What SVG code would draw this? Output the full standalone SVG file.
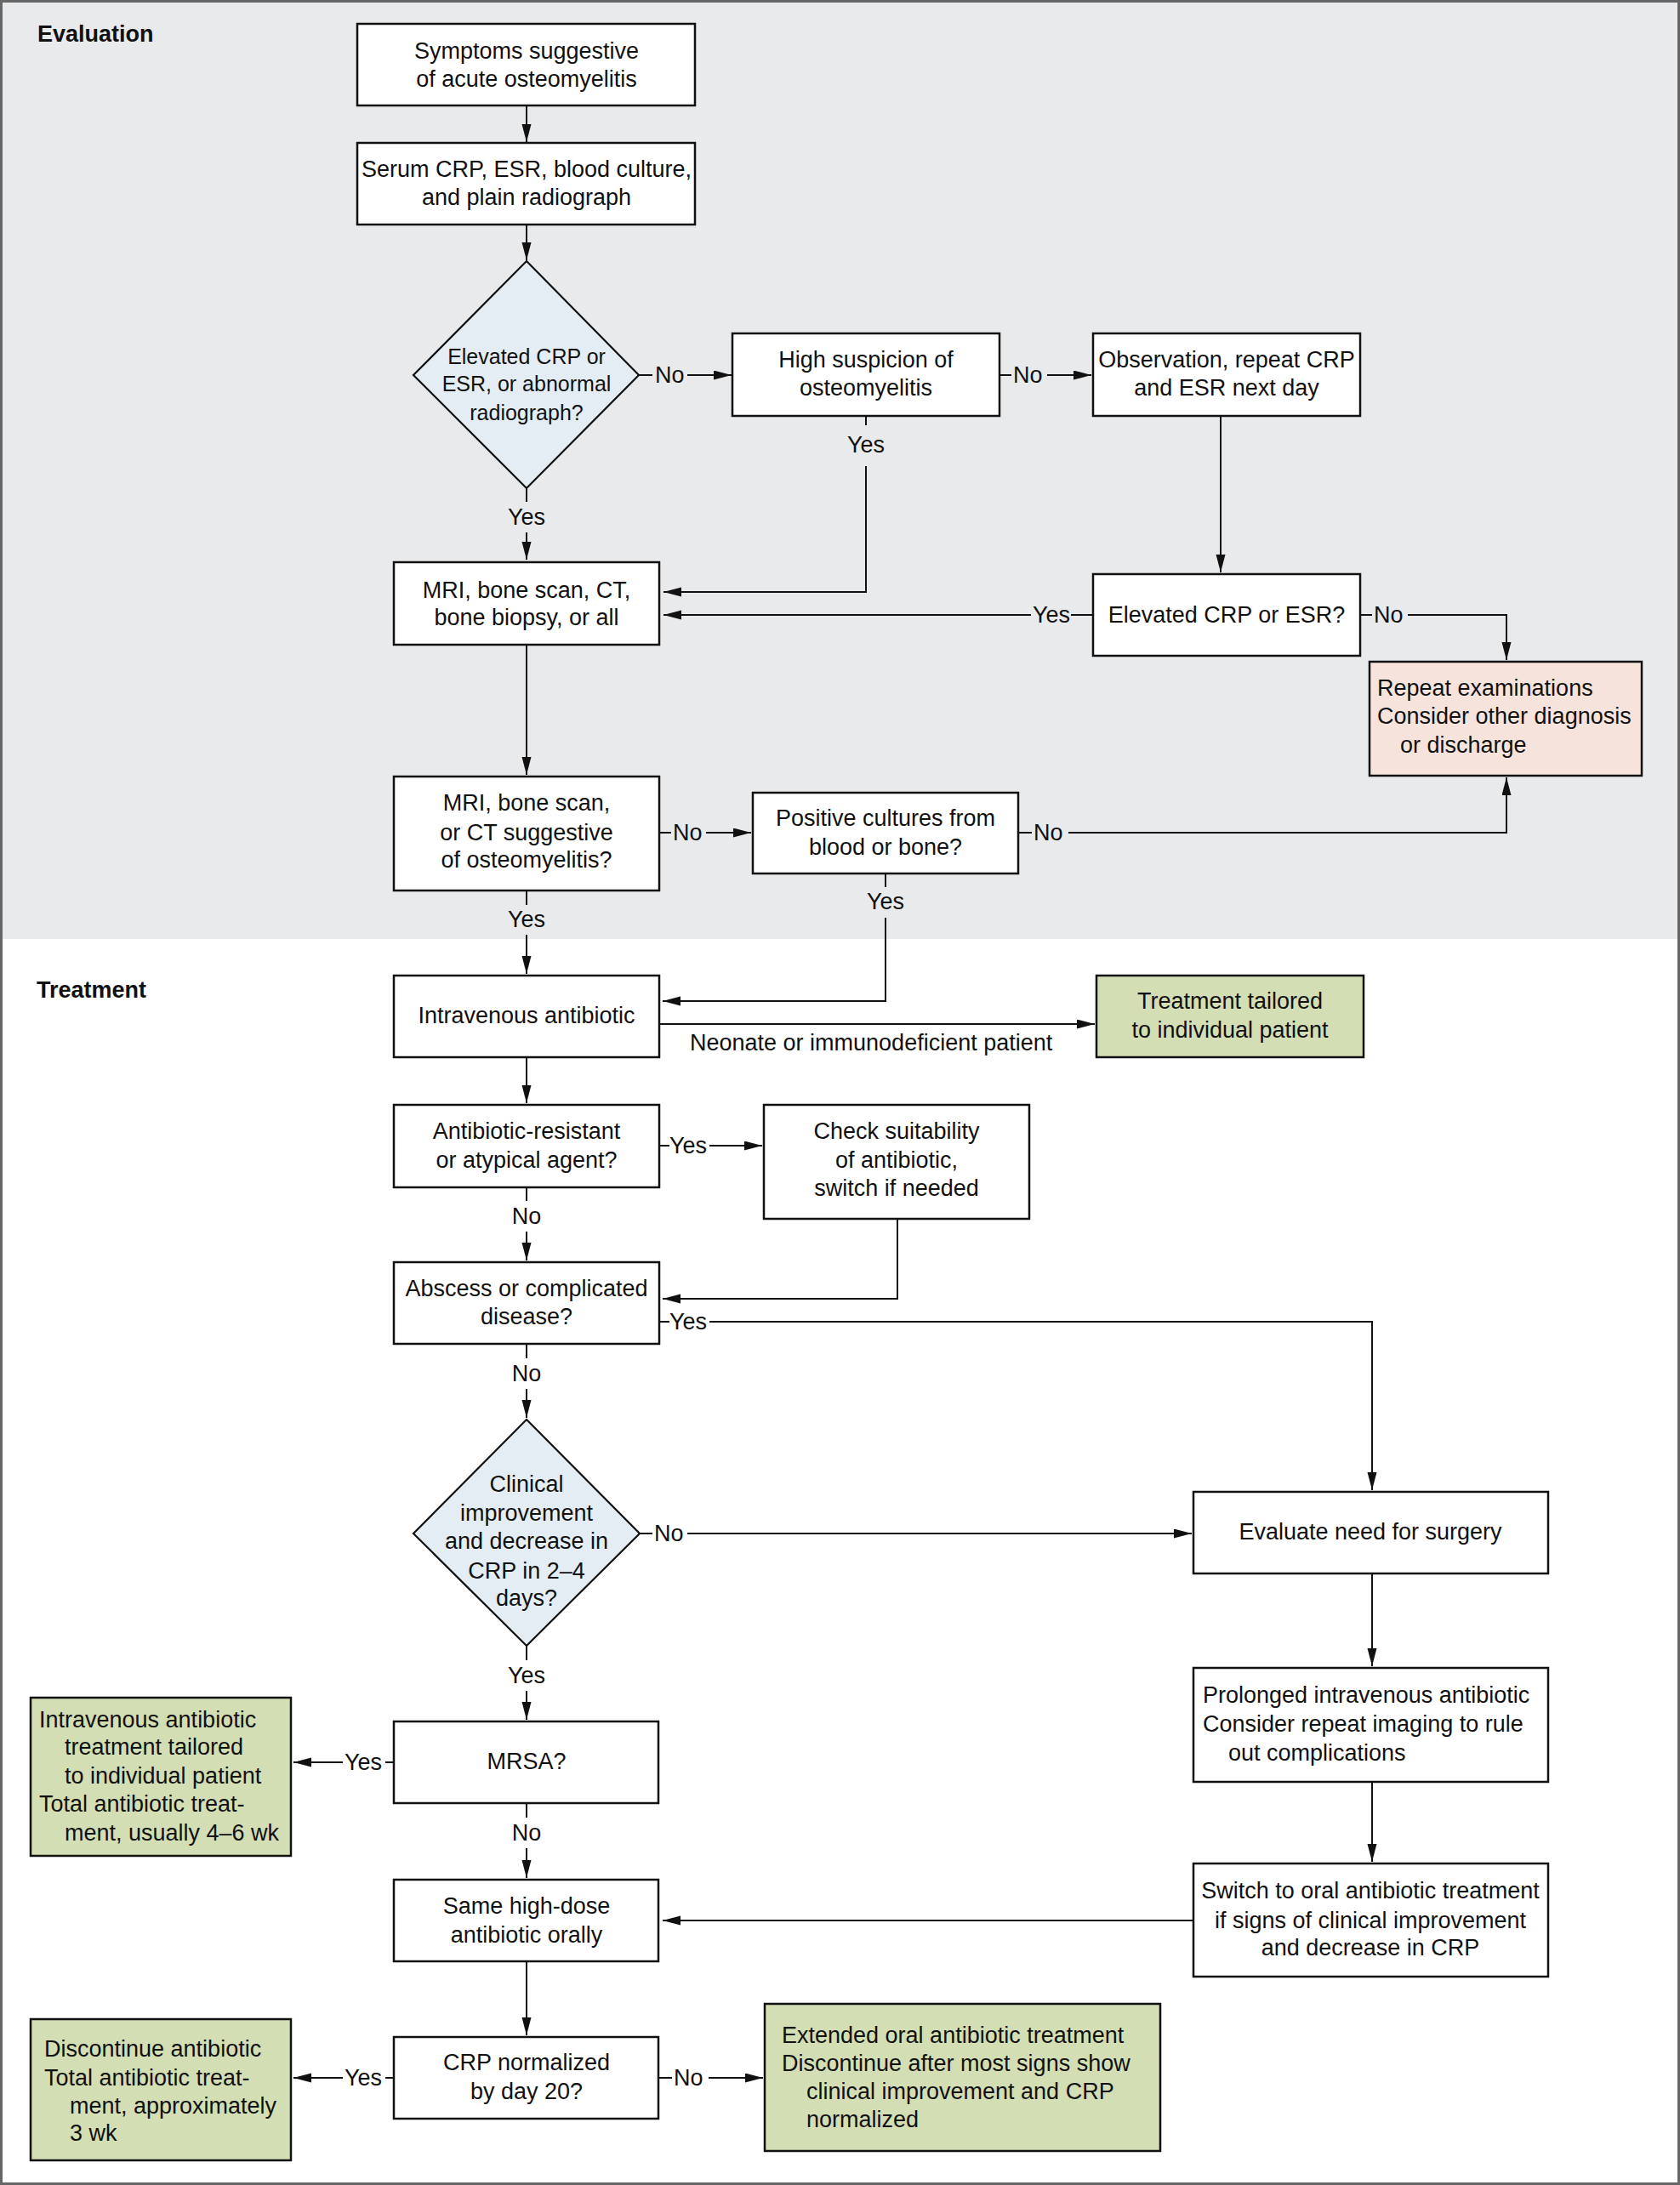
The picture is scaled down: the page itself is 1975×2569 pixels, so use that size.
<svg xmlns="http://www.w3.org/2000/svg" width="1975" height="2569" viewBox="0 0 1975 2569">
<style>
text{font-family:"Liberation Sans",Arial,sans-serif;font-size:27px;fill:#111}
.c{text-anchor:middle}
.h{font-weight:bold}
.s{font-size:25px}
.box{fill:#fff;stroke:#111;stroke-width:2.5}
.dia{fill:#e4edf3;stroke:#111;stroke-width:2.2}
.pink{fill:#f6e4dc;stroke:#111;stroke-width:2.5}
.green{fill:#d3deb4;stroke:#111;stroke-width:2.5}
.ln{fill:none;stroke:#111;stroke-width:2}
.ar{fill:none;stroke:#111;stroke-width:2;marker-end:url(#ah)}
</style>
<defs>
<marker id="ah" markerUnits="userSpaceOnUse" markerWidth="22" markerHeight="12" refX="21" refY="5.5" orient="auto">
<path d="M0,0 L21,5.5 L0,11 z" fill="#111"/>
</marker>
</defs>
<rect x="0" y="0" width="1975" height="2569" fill="#fff"/>
<rect x="3" y="3" width="1969" height="1101" fill="#e9eaec"/>
<rect x="1.5" y="1.5" width="1972" height="2566" fill="none" stroke="#666" stroke-width="3"/>
<text class="h" x="44" y="49">Evaluation</text>
<text class="h" x="43" y="1173">Treatment</text>

<g id="connectors">
<line class="ar" x1="619" y1="124" x2="619" y2="167"/>
<line class="ar" x1="619" y1="264" x2="619" y2="306"/>
<line class="ln" x1="751" y1="441" x2="767" y2="441"/>
<line class="ar" x1="808" y1="441" x2="860" y2="441"/>
<text x="770" y="450">No</text>
<line class="ln" x1="1175" y1="441" x2="1189" y2="441"/>
<line class="ar" x1="1231" y1="441" x2="1283" y2="441"/>
<text x="1191" y="450">No</text>
<polyline class="ln" points="1018,489 1018,500"/>
<text class="c" x="1018" y="532">Yes</text>
<polyline class="ar" points="1018,548 1018,696 780,696"/>
<line class="ln" x1="619" y1="574" x2="619" y2="590"/>
<text class="c" x="619" y="617">Yes</text>
<line class="ar" x1="619" y1="626" x2="619" y2="658"/>
<line class="ar" x1="1435" y1="489" x2="1435" y2="673"/>
<line class="ln" x1="1285" y1="723" x2="1259" y2="723"/>
<text x="1214" y="732">Yes</text>
<line class="ar" x1="1212" y1="723" x2="780" y2="723"/>
<line class="ln" x1="1599" y1="723" x2="1613" y2="723"/>
<text x="1615" y="732">No</text>
<polyline class="ar" points="1655,723 1771,723 1771,776"/>
<line class="ar" x1="619" y1="758" x2="619" y2="911"/>
<line class="ln" x1="775" y1="979" x2="789" y2="979"/>
<text x="791" y="988">No</text>
<line class="ar" x1="830" y1="979" x2="883" y2="979"/>
<line class="ln" x1="1197" y1="979" x2="1213" y2="979"/>
<text x="1215" y="988">No</text>
<polyline class="ar" points="1256,979 1771,979 1771,914"/>
<line class="ln" x1="1041" y1="1027" x2="1041" y2="1043"/>
<text class="c" x="1041" y="1069">Yes</text>
<polyline class="ar" points="1041,1079 1041,1177 779,1177"/>
<line class="ln" x1="619" y1="1047" x2="619" y2="1064"/>
<text class="c" x="619" y="1090">Yes</text>
<line class="ar" x1="619" y1="1099" x2="619" y2="1145"/>
<line class="ar" x1="775" y1="1204" x2="1287" y2="1204"/>
<text x="811" y="1235">Neonate or immunodeficient patient</text>
<line class="ar" x1="619" y1="1243" x2="619" y2="1297"/>
<line class="ln" x1="775" y1="1347" x2="787" y2="1347"/>
<text x="787" y="1356">Yes</text>
<line class="ar" x1="834" y1="1347" x2="896" y2="1347"/>
<line class="ln" x1="619" y1="1396" x2="619" y2="1412"/>
<text class="c" x="619" y="1439">No</text>
<line class="ar" x1="619" y1="1448" x2="619" y2="1482"/>
<polyline class="ar" points="1055,1433 1055,1527 779,1527"/>
<line class="ln" x1="775" y1="1554" x2="787" y2="1554"/>
<text x="787" y="1563">Yes</text>
<polyline class="ar" points="834,1554 1613,1554 1613,1752"/>
<line class="ln" x1="619" y1="1580" x2="619" y2="1597"/>
<text class="c" x="619" y="1624">No</text>
<line class="ar" x1="619" y1="1633" x2="619" y2="1667"/>
<line class="ln" x1="752" y1="1803" x2="767" y2="1803"/>
<text x="769" y="1812">No</text>
<line class="ar" x1="808" y1="1803" x2="1401" y2="1803"/>
<line class="ar" x1="1613" y1="1850" x2="1613" y2="1959"/>
<line class="ar" x1="1613" y1="2095" x2="1613" y2="2189"/>
<line class="ar" x1="1402" y1="2258" x2="779" y2="2258"/>
<line class="ln" x1="619" y1="1935" x2="619" y2="1952"/>
<text class="c" x="619" y="1979">Yes</text>
<line class="ar" x1="619" y1="1988" x2="619" y2="2022"/>
<line class="ln" x1="463" y1="2072" x2="453" y2="2072"/>
<text x="405" y="2081">Yes</text>
<line class="ar" x1="403" y1="2072" x2="345" y2="2072"/>
<line class="ln" x1="619" y1="2120" x2="619" y2="2137"/>
<text class="c" x="619" y="2164">No</text>
<line class="ar" x1="619" y1="2173" x2="619" y2="2208"/>
<line class="ar" x1="619" y1="2306" x2="619" y2="2393"/>
<line class="ln" x1="463" y1="2443" x2="453" y2="2443"/>
<text x="405" y="2452">Yes</text>
<line class="ar" x1="403" y1="2443" x2="345" y2="2443"/>
<line class="ln" x1="774" y1="2443" x2="790" y2="2443"/>
<text x="792" y="2452">No</text>
<line class="ar" x1="833" y1="2443" x2="897" y2="2443"/>
</g>

<g id="n-symptoms">
<rect class="box" x="420" y="28" width="397" height="96"/>
<text class="c" x="619" y="69">Symptoms suggestive</text>
<text class="c" x="619" y="102">of acute osteomyelitis</text>
</g>
<g id="n-serum">
<rect class="box" x="420" y="168" width="397" height="96"/>
<text class="c" x="619" y="208">Serum CRP, ESR, blood culture,</text>
<text class="c" x="619" y="241">and plain radiograph</text>
</g>
<g id="n-elevated1">
<polygon class="dia" points="619,307 751,441 619,574 486,441"/>
<text class="c s" x="619" y="428">Elevated CRP or</text>
<text class="c s" x="619" y="460">ESR, or abnormal</text>
<text class="c s" x="619" y="494">radiograph?</text>
</g>
<g id="n-highsusp">
<rect class="box" x="861" y="392" width="314" height="97"/>
<text class="c" x="1018" y="432">High suspicion of</text>
<text class="c" x="1018" y="465">osteomyelitis</text>
</g>
<g id="n-observation">
<rect class="box" x="1285" y="392" width="314" height="97"/>
<text class="c" x="1442" y="432">Observation, repeat CRP</text>
<text class="c" x="1442" y="465">and ESR next day</text>
</g>
<g id="n-elevated2">
<rect class="box" x="1285" y="675" width="314" height="96"/>
<text class="c" x="1442" y="732">Elevated CRP or ESR?</text>
</g>
<g id="n-repeat">
<rect class="pink" x="1610" y="778" width="320" height="134"/>
<text x="1619" y="818">Repeat examinations</text>
<text x="1619" y="851">Consider other diagnosis</text>
<text x="1646" y="885">or discharge</text>
</g>
<g id="n-mri1">
<rect class="box" x="463" y="661" width="312" height="97"/>
<text class="c" x="619" y="703">MRI, bone scan, CT,</text>
<text class="c" x="619" y="735">bone biopsy, or all</text>
</g>
<g id="n-mri2">
<rect class="box" x="463" y="913" width="312" height="134"/>
<text class="c" x="619" y="953">MRI, bone scan,</text>
<text class="c" x="619" y="988">or CT suggestive</text>
<text class="c" x="619" y="1020">of osteomyelitis?</text>
</g>
<g id="n-positive">
<rect class="box" x="885" y="932" width="312" height="95"/>
<text class="c" x="1041" y="971">Positive cultures from</text>
<text class="c" x="1041" y="1005">blood or bone?</text>
</g>
<g id="n-iv">
<rect class="box" x="463" y="1147" width="312" height="96"/>
<text class="c" x="619" y="1203">Intravenous antibiotic</text>
</g>
<g id="n-tailored">
<rect class="green" x="1289" y="1147" width="314" height="96"/>
<text class="c" x="1446" y="1186">Treatment tailored</text>
<text class="c" x="1446" y="1220">to individual patient</text>
</g>
<g id="n-resistant">
<rect class="box" x="463" y="1299" width="312" height="97"/>
<text class="c" x="619" y="1339">Antibiotic-resistant</text>
<text class="c" x="619" y="1373">or atypical agent?</text>
</g>
<g id="n-check">
<rect class="box" x="898" y="1299" width="312" height="134"/>
<text class="c" x="1054" y="1339">Check suitability</text>
<text class="c" x="1054" y="1373">of antibiotic,</text>
<text class="c" x="1054" y="1406">switch if needed</text>
</g>
<g id="n-abscess">
<rect class="box" x="463" y="1484" width="312" height="96"/>
<text class="c" x="619" y="1524">Abscess or complicated</text>
<text class="c" x="619" y="1557">disease?</text>
</g>
<g id="n-clinical">
<polygon class="dia" points="619,1669 752,1803 619,1935 486,1803"/>
<text class="c" x="619" y="1754">Clinical</text>
<text class="c" x="619" y="1788">improvement</text>
<text class="c" x="619" y="1821">and decrease in</text>
<text class="c" x="619" y="1856">CRP in 2–4</text>
<text class="c" x="619" y="1888">days?</text>
</g>
<g id="n-surgery">
<rect class="box" x="1403" y="1754" width="417" height="96"/>
<text class="c" x="1611" y="1810">Evaluate need for surgery</text>
</g>
<g id="n-prolonged">
<rect class="box" x="1403" y="1961" width="417" height="134"/>
<text x="1414" y="2002">Prolonged intravenous antibiotic</text>
<text x="1414" y="2036">Consider repeat imaging to rule</text>
<text x="1444" y="2070">out complications</text>
</g>
<g id="n-switch">
<rect class="box" x="1403" y="2191" width="417" height="133"/>
<text class="c" x="1611" y="2232">Switch to oral antibiotic treatment</text>
<text class="c" x="1611" y="2267">if signs of clinical improvement</text>
<text class="c" x="1611" y="2299">and decrease in CRP</text>
</g>
<g id="n-mrsa">
<rect class="box" x="463" y="2024" width="311" height="96"/>
<text class="c" x="619" y="2080">MRSA?</text>
</g>
<g id="n-ivtailored">
<rect class="green" x="36" y="1996" width="306" height="186"/>
<text x="46" y="2031">Intravenous antibiotic</text>
<text x="76" y="2063">treatment tailored</text>
<text x="76" y="2097">to individual patient</text>
<text x="46" y="2130">Total antibiotic treat-</text>
<text x="76" y="2164">ment, usually 4–6 wk</text>
</g>
<g id="n-samedose">
<rect class="box" x="463" y="2210" width="311" height="96"/>
<text class="c" x="619" y="2250">Same high-dose</text>
<text class="c" x="619" y="2284">antibiotic orally</text>
</g>
<g id="n-crpnorm">
<rect class="box" x="463" y="2395" width="311" height="96"/>
<text class="c" x="619" y="2434">CRP normalized</text>
<text class="c" x="619" y="2468">by day 20?</text>
</g>
<g id="n-discontinue">
<rect class="green" x="36" y="2374" width="306" height="166"/>
<text x="52" y="2418">Discontinue antibiotic</text>
<text x="52" y="2452">Total antibiotic treat-</text>
<text x="82" y="2485">ment, approximately</text>
<text x="82" y="2517">3 wk</text>
</g>
<g id="n-extended">
<rect class="green" x="899" y="2356" width="465" height="173"/>
<text x="919" y="2402">Extended oral antibiotic treatment</text>
<text x="919" y="2435">Discontinue after most signs show</text>
<text x="948" y="2468">clinical improvement and CRP</text>
<text x="948" y="2501">normalized</text>
</g>
</svg>
